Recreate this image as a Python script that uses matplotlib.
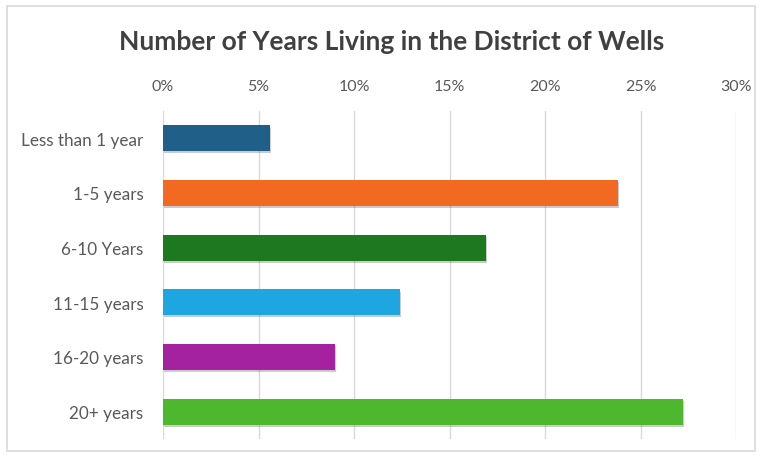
import matplotlib
matplotlib.use("Agg")
import matplotlib.pyplot as plt
import matplotlib.patheffects as pe
from matplotlib.patches import Rectangle
from matplotlib.ticker import FuncFormatter

categories = ["Less than 1 year", "1-5 years", "6-10 Years", "11-15 years", "16-20 years", "20+ years"]
values = [5.6, 23.8, 16.9, 12.4, 9.0, 27.2]
colors = ["#1f5f88", "#f26a21", "#1d781f", "#1ea6e0", "#a4219f", "#4db72d"]
xticks = [0, 5, 10, 15, 20, 25, 30]

fig = plt.figure(figsize=(7.61, 4.60), dpi=100)
fig.patch.set_facecolor("white")

# chart frame
fig.add_artist(Rectangle((7 / 761, 1 - 452 / 460), 748 / 761, 445 / 460,
                         transform=fig.transFigure, fill=False,
                         edgecolor="#d9d9d9", linewidth=1.2))

ax = fig.add_axes([163 / 761, 1 - 440 / 460, (736 - 163) / 761, (440 - 112) / 460])
ypos = list(range(len(categories)))
bars = ax.barh(ypos, values, height=0.47, color=colors, zorder=3)
for b in bars:
    b.set_path_effects([pe.SimplePatchShadow(offset=(1, -1.5), alpha=0.3, shadow_rgbFace="#555555"),
                        pe.Normal()])

ax.set_xlim(0, 30)
ax.set_ylim(len(categories) - 0.5, -0.5)
ax.set_xticks(xticks)
ax.xaxis.set_major_formatter(FuncFormatter(lambda v, p: f"{v:.0f}%"))
ax.xaxis.tick_top()
ax.set_yticks(ypos)
ax.set_yticklabels(categories)
ax.tick_params(axis="both", length=0, colors="#595959")
ax.tick_params(axis="x", pad=13, labelsize=11.5)
ax.tick_params(axis="y", pad=14, labelsize=12.3)
for lab in ax.get_xticklabels() + ax.get_yticklabels():
    lab.set_family("Lato")
ax.grid(axis="x", color="#d9d9d9", linewidth=1, zorder=0)
for s in ax.spines.values():
    s.set_visible(False)

fig.text(392 / 761, 1 - 42 / 460, "Number of Years Living in the District of Wells",
         ha="center", va="center", fontsize=19, fontweight="bold",
         color="#404040", family="Lato")

fig.savefig("out.png", dpi=100, facecolor="white")
